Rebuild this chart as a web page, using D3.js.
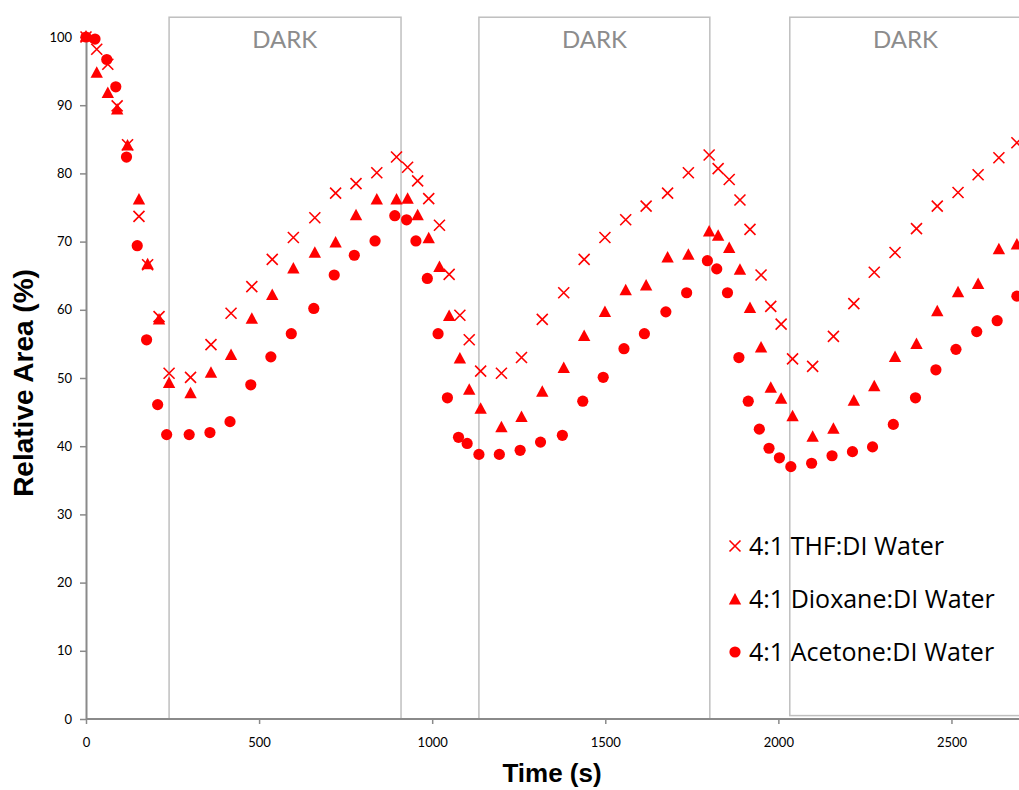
<!DOCTYPE html>
<html><head><meta charset="utf-8">
<script src="https://cdn.jsdelivr.net/npm/d3@7"></script>
<style>body{margin:0;background:#fff;}svg{display:block;}</style>
</head><body><div id="chart"></div>
<script>
const thfTime = [0,31,63,90,120,153,178,211,240,302,361,419,479,538,599,661,721,780,840,897,929,958,990,1021,1049,1080,1107,1140,1200,1258,1318,1380,1439,1499,1559,1618,1680,1740,1800,1826,1858,1889,1918,1950,1978,2008,2041,2099,2159,2218,2277,2337,2399,2459,2519,2577,2637,2689];
const thfValues = [100,98.2,96.0,89.9,84.2,73.7,66.6,59.0,50.7,50.1,54.9,59.5,63.4,67.4,70.6,73.5,77.1,78.5,80.1,82.4,80.9,78.9,76.3,72.4,65.2,59.2,55.6,51.0,50.7,53.0,58.6,62.5,67.4,70.6,73.2,75.2,77.1,80.1,82.7,80.7,79.1,76.1,71.8,65.1,60.5,57.9,52.8,51.7,56.1,60.9,65.5,68.4,71.9,75.2,77.2,79.8,82.3,84.5];
const dioxaneTime = thfTime;
const dioxaneValues = [100,94.7,91.7,89.3,84.0,76.1,66.6,58.5,49.2,47.7,50.7,53.3,58.6,62.1,66.0,68.3,69.8,73.8,76.1,76.1,76.2,73.8,70.4,66.2,59.0,52.8,48.2,45.4,42.7,44.2,47.9,51.4,56.1,59.6,62.8,63.5,67.6,68.0,71.4,70.8,69.0,65.8,60.2,54.4,48.5,46.9,44.3,41.3,42.5,46.6,48.7,53.0,54.9,59.7,62.5,63.7,68.8,69.5];
const acetoneTime = [0,26,60,86,117,148,175,207,233,298,358,416,476,534,593,658,717,775,835,892,926,953,986,1017,1044,1076,1101,1135,1194,1254,1313,1376,1435,1494,1554,1613,1675,1735,1795,1822,1853,1886,1913,1945,1973,2003,2036,2096,2155,2214,2272,2332,2396,2455,2513,2573,2632,2689];
const acetoneValues = [100,99.7,96.7,92.7,82.4,69.4,55.6,46.1,41.7,41.7,42.0,43.6,49.0,53.1,56.5,60.2,65.1,68.0,70.1,73.8,73.2,70.1,64.6,56.5,47.1,41.3,40.4,38.8,38.8,39.4,40.6,41.6,46.6,50.1,54.3,56.5,59.7,62.5,67.2,66.0,62.5,53.0,46.6,42.5,39.7,38.3,37.0,37.5,38.6,39.2,39.9,43.2,47.1,51.2,54.2,56.8,58.4,62.0];
const seriesNames = ["4:1 THF:DI Water","4:1 Dioxane:DI Water","4:1 Acetone:DI Water"];
const darkStart = [240, 1135, 2033];
const darkEnd = [910, 1802, 2700];
const darkBottom = [0, 0, 0.5];
const darkTop = 102.9;
const darkLabel = "DARK";
const xTicks = [0,500,1000,1500,2000,2500];
const yTicks = [0,10,20,30,40,50,60,70,80,90,100];
const xTitle = "Time (s)";
const yTitle = "Relative Area (%)";

const W = 1019, H = 790;
const FONT = "Lato, 'Open Sans', sans-serif";
const RED = "#ff0000";
const svg = d3.select("#chart").append("svg").attr("width", W).attr("height", H);
const x = d3.scaleLinear().domain([0, 2700]).range([86, 1020.7]);
const y = d3.scaleLinear().domain([0, 100]).range([719, 37]);

// dark boxes
const boxes = darkStart.map((s, i) => ({s, e: darkEnd[i], b: darkBottom[i]}));
svg.append("g").selectAll("rect").data(boxes).join("rect")
  .attr("x", d => x(d.s)).attr("y", y(darkTop))
  .attr("width", d => x(d.e) - x(d.s)).attr("height", d => y(d.b) - y(darkTop))
  .attr("fill", "none").attr("stroke", "#bfbfbf").attr("stroke-width", 1.5);
svg.append("g").selectAll("text").data(boxes).join("text")
  .attr("x", d => (x(d.s) + x(d.s + 668)) / 2).attr("y", 48)
  .attr("text-anchor", "middle").attr("font-family", FONT).attr("font-size", 24)
  .attr("fill", "#8c8c8c").text(darkLabel);

// axes
const xAxis = svg.append("g").attr("transform", "translate(0,719)")
  .call(d3.axisBottom(x).tickValues(xTicks).tickFormat(d3.format("d")).tickSize(5).tickPadding(14).tickSizeOuter(0));
const yAxis = svg.append("g").attr("transform", "translate(86,0)")
  .call(d3.axisLeft(y).tickValues(yTicks).tickFormat(d3.format("d")).tickSize(6).tickPadding(8).tickSizeOuter(0));
[xAxis, yAxis].forEach(a => {
  a.select(".domain").attr("stroke", "#8a8a8a").attr("stroke-width", 2);
  a.selectAll(".tick line").attr("stroke", "#8a8a8a").attr("stroke-width", 1.5);
  a.selectAll(".tick text").attr("font-family", FONT).attr("font-size", 13).attr("fill", "#000");
});
xAxis.select(".domain").attr("d", `M86,0H1019`);

const TFONT = "'Liberation Sans', Arial, sans-serif";
svg.append("text").attr("x", 552).attr("y", 782).attr("text-anchor", "middle")
  .attr("font-family", TFONT).attr("font-weight", "bold").attr("font-size", 26).text(xTitle);
svg.append("text").attr("transform", "translate(33,383) rotate(-90)").attr("text-anchor", "middle")
  .attr("font-family", TFONT).attr("font-weight", "bold").attr("font-size", 28).text(yTitle);

// symbols
function drawSymbol(g, type, cx, cy) {
  if (type === 0) {
    const s = 5.5;
    g.append("path").attr("d", `M${cx-s},${cy-s}L${cx+s},${cy+s}M${cx-s},${cy+s}L${cx+s},${cy-s}`)
      .attr("stroke", RED).attr("stroke-width", 1.6).attr("fill", "none");
  } else if (type === 1) {
    g.append("path").attr("d", `M${cx},${cy-7}L${cx+6.2},${cy+4.5}L${cx-6.2},${cy+4.5}Z`).attr("fill", RED);
  } else {
    g.append("circle").attr("cx", cx).attr("cy", cy).attr("r", 5.6).attr("fill", RED);
  }
}
const series = [
  {t: thfTime, v: thfValues},
  {t: dioxaneTime, v: dioxaneValues},
  {t: acetoneTime, v: acetoneValues}
];
const marks = svg.append("g");
[2, 1, 0].forEach(si => {
  const s = series[si];
  const g = marks.append("g");
  s.t.forEach((t, i) => drawSymbol(g, si, x(t), y(s.v[i])));
});

// legend
const leg = svg.append("g");
seriesNames.forEach((n, i) => {
  const cy = 546 + i * 53;
  drawSymbol(leg, i, 735, cy + (i === 1 ? 1 : 0));
  leg.append("text").attr("x", 749).attr("y", cy + 9).attr("font-family", "'Open Sans', sans-serif")
    .attr("font-size", 25).attr("fill", "#000").text(n);
});
</script></body></html>
